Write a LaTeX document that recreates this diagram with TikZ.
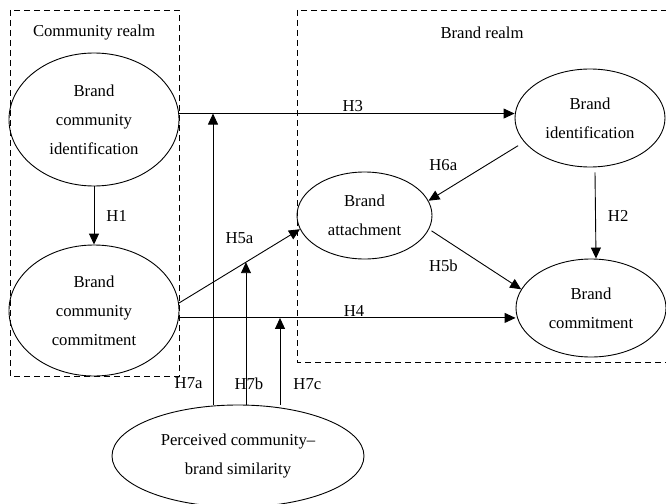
\documentclass[tikz,border=0pt]{standalone}
\usepackage{fontspec}
\setmainfont{Liberation Serif}
\usetikzlibrary{arrows.meta,calc,shapes.geometric}

\tikzset{
  construct/.style={draw, ellipse, align=center, inner sep=0pt},
  link/.style={-{Triangle[length=11pt,width=10pt]}},
  realm/.style={draw, dash pattern=on 6pt off 4pt},
  hyp/.style={inner sep=1pt}
}

\begin{document}
\begin{tikzpicture}[x=1pt, y=-1pt, line width=0.9pt,
    font=\fontsize{16.7}{29}\selectfont]
  \useasboundingbox (0,0) rectangle (666,503);
  \clip (0,0) rectangle (666,503);

  % realms
  \draw[realm] (10,10) rectangle (179,376);
  \draw[realm] (297,10) rectangle (690,362);
  \node (crealm) at (94,33) {Community realm};
  \node (brealm) at (482,33) {Brand realm};

  % constructs
  \node[construct, minimum width=170pt, minimum height=133pt] (bci) at (94,119.5) {Brand\\community\\identification};
  \node[construct, minimum width=170pt, minimum height=131pt] (bcc) at (94,310.5) {Brand\\community\\commitment};
  \node[construct, minimum width=150pt, minimum height=98pt] (bi) at (590,118) {Brand\\identification};
  \node[construct, minimum width=135pt, minimum height=87pt] (att) at (364.5,215.5) {Brand\\attachment};
  \node[construct, minimum width=150pt, minimum height=98pt] (bc) at (591,308) {Brand\\commitment};
  \node[construct, minimum width=252pt, minimum height=102pt] (sim) at (238,456) {Perceived community--\\brand similarity};

  % hypotheses
  \draw[link] (bci.south) -- node[hyp, right=11pt] {H1} (bcc.north);
  \draw[link] ([xshift=5pt,yshift=-5pt]bi.south) -- node[hyp, right=11pt] {H2} ([xshift=5pt]bc.north);
  \draw[link] (bci.4) -- node[hyp, above, pos=0.518] {H3} (bci.4 -| bi.west);
  \draw[link] (bcc.-5) -- node[hyp, above, pos=0.52] {H4} (bcc.-5 -| bc.west);
  \draw[link] (bcc.5) -- node[hyp, above=21pt] {H5a} (att.192);
  \draw[link, shorten <=3pt] (att.-12) -- node[hyp, below=20pt, pos=0.156] {H5b} (bc.165);
  \draw[link, shorten <=7pt] (bi.200) -- node[hyp, above=20pt, pos=0.845] {H6a} (att.13);

  % moderation
  \coordinate (x7a) at (213,0);
  \coordinate (x7c) at (280,0);
  \coordinate (m5a) at ($(bcc.5)!0.554!(att.192)$);
  \draw[link] (sim.north -| x7a) -- node[hyp, left=9pt, pos=0.072] {H7a} (x7a |- bci.4);
  \draw[link] (sim.north -| m5a) -- node[hyp, pos=0.147, xshift=3pt] {H7b} (m5a);
  \draw[link] (sim.north -| x7c) -- node[hyp, right=12pt, pos=0.24] {H7c} (x7c |- bcc.-5);
\end{tikzpicture}
\end{document}
